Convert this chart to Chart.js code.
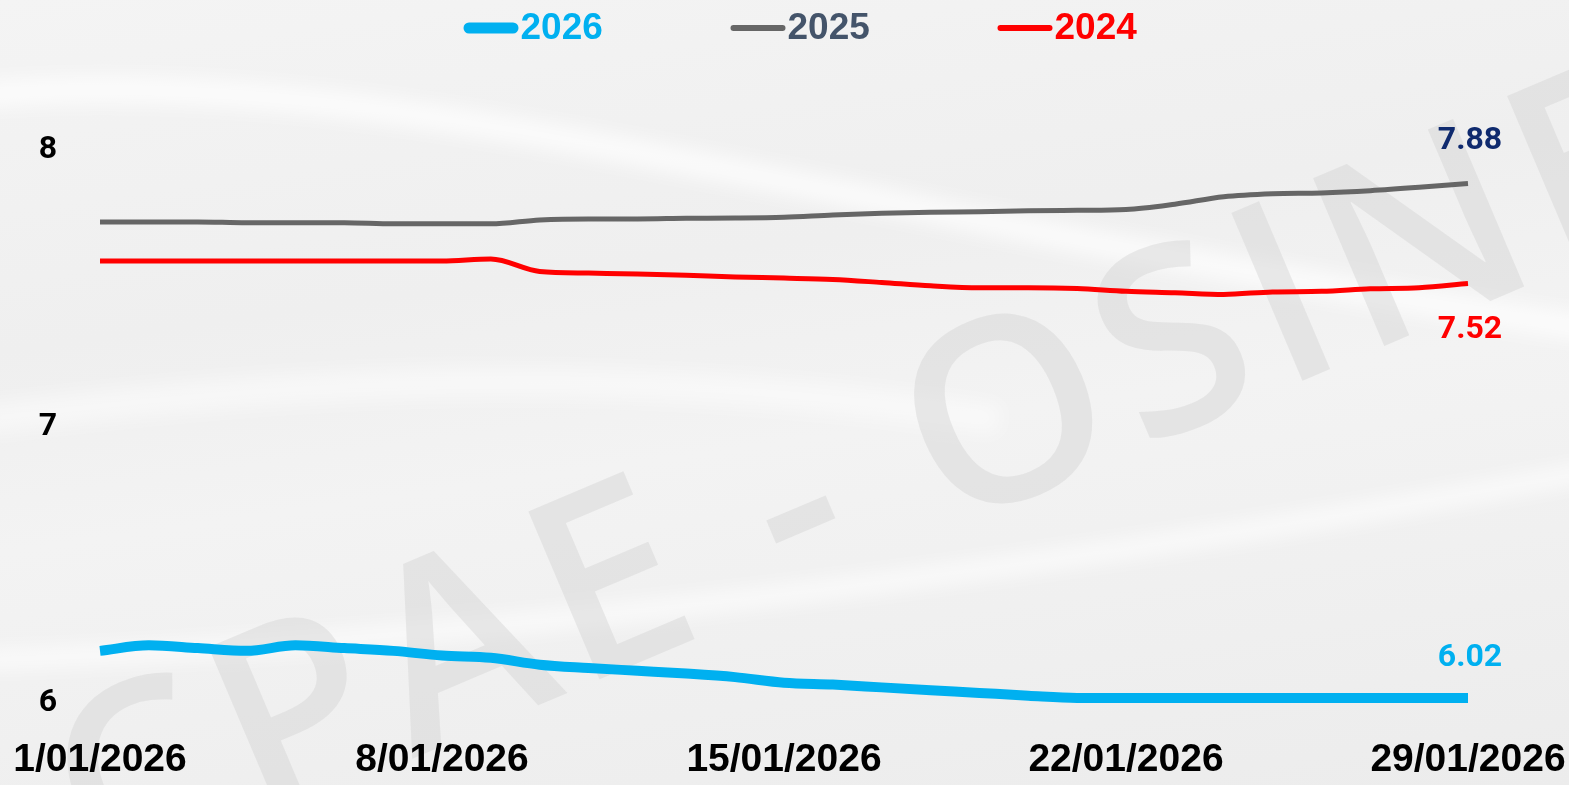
<!DOCTYPE html>
<html>
<head>
<meta charset="utf-8">
<script src="https://cdn.jsdelivr.net/npm/chart.js@4"></script>
<style>
  html, body { margin: 0; padding: 0; }
  body {
    width: 1569px;
    height: 785px;
    overflow: hidden;
    background: linear-gradient(172deg, #f4f4f4 0%, #efefef 35%, #f3f3f3 55%, #ececec 100%);
  }
  #wrap { position: relative; width: 1569px; height: 785px; }
</style>
</head>
<body>
<div id="wrap"><canvas id="priceChart" width="1569" height="785"></canvas></div>
<script>
const days = [
  "1/01/2026", "2/01/2026", "3/01/2026", "4/01/2026", "5/01/2026", "6/01/2026", "7/01/2026",
  "8/01/2026", "9/01/2026", "10/01/2026", "11/01/2026", "12/01/2026", "13/01/2026", "14/01/2026",
  "15/01/2026", "16/01/2026", "17/01/2026", "18/01/2026", "19/01/2026", "20/01/2026", "21/01/2026",
  "22/01/2026", "23/01/2026", "24/01/2026", "25/01/2026", "26/01/2026", "27/01/2026", "28/01/2026",
  "29/01/2026"
];

const values2026 = [6.19, 6.21, 6.20, 6.19, 6.21, 6.20, 6.19, 6.173, 6.165, 6.14, 6.128, 6.118, 6.108, 6.095,
  6.075, 6.068, 6.058, 6.048, 6.038, 6.028, 6.02, 6.02, 6.02, 6.02, 6.02, 6.02, 6.02, 6.02, 6.02];
const values2025 = [7.741, 7.741, 7.741, 7.738, 7.738, 7.738, 7.734, 7.734, 7.734, 7.748, 7.752, 7.752, 7.754, 7.755,
  7.758, 7.766, 7.772, 7.776, 7.778, 7.781, 7.783, 7.786, 7.805, 7.832, 7.843, 7.846, 7.854, 7.866, 7.88];
const values2024 = [7.60, 7.60, 7.60, 7.60, 7.60, 7.60, 7.60, 7.60, 7.607, 7.562, 7.556, 7.553, 7.548, 7.542,
  7.538, 7.533, 7.522, 7.51, 7.503, 7.503, 7.50, 7.49, 7.485, 7.479, 7.488, 7.49, 7.499, 7.503, 7.518];

const yTicks = [6, 7, 8];
const seriesNames = ["2026", "2025", "2024"];

// styles
const lineColors = ["#00b0f0", "#666666", "#ff0000"];
const lineWidths = [10, 5, 5];
const legendTextColors = ["#00b0f0", "#44546a", "#ff0000"];
const legendLineWidths = [11, 6, 6];
const endLabelColors = ["#00b0f0", "#0f2a6e", "#ff0000"];
const endLabelOffsets = [-40, -42, 46];

const sansFont = "'Liberation Sans', Arial, sans-serif";

const backdrop = {
  id: "backdrop",
  beforeDraw(chart) {
    const ctx = chart.ctx;
    ctx.save();
    // soft white streaks
    ctx.filter = "blur(10px)";
    ctx.strokeStyle = "rgba(255,255,255,0.75)";
    ctx.lineWidth = 26;
    ctx.beginPath();
    ctx.moveTo(-20, 95);
    ctx.bezierCurveTo(400, 60, 800, 210, 1600, 330);
    ctx.stroke();
    ctx.lineWidth = 18;
    ctx.beginPath();
    ctx.moveTo(-20, 660);
    ctx.bezierCurveTo(300, 650, 900, 600, 1600, 470);
    ctx.stroke();
    ctx.strokeStyle = "rgba(255,255,255,0.5)";
    ctx.lineWidth = 30;
    ctx.beginPath();
    ctx.moveTo(-20, 420);
    ctx.bezierCurveTo(300, 380, 600, 360, 1000, 420);
    ctx.stroke();
    ctx.filter = "none";

    // watermark, anchored on the centre of the "O"
    const ang = -23 * Math.PI / 180;
    const size = 255;
    ctx.font = "600 " + size + "px 'Open Sans', sans-serif";
    ctx.letterSpacing = "11px";
    const pre = ctx.measureText("CPAE - ").width;
    const oW = ctx.measureText("O").width;
    const ux = Math.cos(ang), uy = Math.sin(ang);
    const vx = -Math.sin(ang), vy = Math.cos(ang);
    const along = pre + oW / 2, up = -0.36 * size;
    const ox = 1008 - ux * along - vx * up;
    const oy = 406 - uy * along - vy * up;
    ctx.translate(ox, oy);
    ctx.rotate(ang);
    ctx.fillStyle = "rgba(210,210,210,0.45)";
    ctx.textBaseline = "alphabetic";
    ctx.textAlign = "left";
    ctx.fillText("CPAE - OSINERGMIN", 0, 0);
    ctx.restore();
  }
};

const endLabels = {
  id: "endLabels",
  afterDatasetsDraw(chart) {
    const ctx = chart.ctx;
    ctx.save();
    ctx.font = "bold 32px Roboto, sans-serif";
    ctx.textAlign = "center";
    ctx.textBaseline = "middle";
    chart.data.datasets.forEach((ds, i) => {
      const pts = chart.getDatasetMeta(i).data;
      const last = pts[pts.length - 1];
      ctx.fillStyle = endLabelColors[i];
      ctx.fillText(ds.data[ds.data.length - 1].toFixed(2), last.x + 2, last.y + endLabelOffsets[i]);
    });
    ctx.restore();
  }
};

const topLegend = {
  id: "topLegend",
  afterDraw(chart) {
    const ctx = chart.ctx;
    const pitch = 267, lineLen = 55, itemW = 140;
    const center = chart.width / 2 + 16;
    let x = center - ((seriesNames.length - 1) * pitch + itemW) / 2;
    const y = 28;
    ctx.save();
    seriesNames.forEach((name, i) => {
      ctx.strokeStyle = lineColors[i];
      ctx.lineWidth = legendLineWidths[i];
      ctx.lineCap = "round";
      ctx.beginPath();
      ctx.moveTo(x + legendLineWidths[i] / 2, y);
      ctx.lineTo(x + lineLen - legendLineWidths[i] / 2, y);
      ctx.stroke();
      ctx.font = "bold 37px " + sansFont;
      ctx.fillStyle = legendTextColors[i];
      ctx.textBaseline = "middle";
      ctx.textAlign = "left";
      ctx.fillText(name, x + lineLen + 2, y + 1);
      x += pitch;
    });
    ctx.restore();
  }
};

const ctx = document.getElementById("priceChart");
new Chart(ctx, {
  type: "line",
  data: {
    labels: days,
    datasets: [
      { label: seriesNames[0], data: values2026 },
      { label: seriesNames[1], data: values2025 },
      { label: seriesNames[2], data: values2024 },
    ].map((d, i) => ({
      ...d,
      borderColor: lineColors[i],
      backgroundColor: lineColors[i],
      borderWidth: lineWidths[i],
      pointRadius: 0,
      pointHoverRadius: 0,
      cubicInterpolationMode: "monotone",
      fill: false,
      clip: false,
      order: i,
    })),
  },
  plugins: [backdrop, endLabels, topLegend],
  options: {
    responsive: false,
    animation: false,
    events: [],
    layout: { padding: { top: 95, right: 101, bottom: 0, left: 0 } },
    plugins: {
      legend: { display: false },
      tooltip: { enabled: false },
    },
    scales: {
      x: {
        offset: false,
        grid: { display: false, drawTicks: false },
        border: { display: false },
        afterFit: (scale) => {
          scale.paddingRight = 0;
          scale.paddingLeft = 0;
          scale.height -= 12;
        },
        ticks: {
          autoSkip: false,
          maxRotation: 0,
          minRotation: 0,
          padding: 14,
          color: "#000",
          font: { family: sansFont, weight: "bold", size: 39, lineHeight: 1.15 },
          callback: (val, i) => (i % 7 === 0 ? days[i] : ""),
        },
      },
      y: {
        min: 5.925,
        max: 8.2,
        grid: { display: false, drawTicks: false },
        border: { display: false },
        afterFit: (scale) => {
          scale.width = 100;
          scale.paddingTop = 0;
          scale.paddingBottom = 0;
        },
        afterBuildTicks: (scale) => { scale.ticks = yTicks.map((v) => ({ value: v })); },
        ticks: {
          padding: 43,
          color: "#000",
          font: { family: "Roboto, sans-serif", weight: "bold", size: 32 },
          callback: (v) => v,
        },
      },
    },
  },
});
</script>
</body>
</html>
